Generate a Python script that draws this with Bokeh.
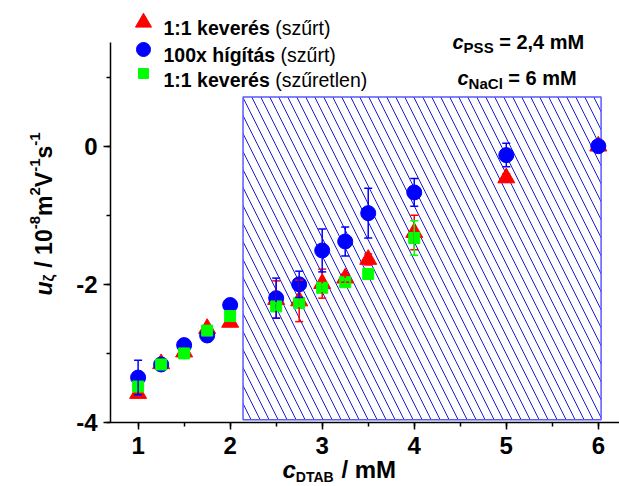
import math
from bokeh.plotting import figure
from bokeh.models import (Label, SingleIntervalTicker, Whisker, TeeHead,
                          ColumnDataSource, Range1d)
from bokeh.embed import file_html
from bokeh.resources import INLINE

# --- data -------------------------------------------------------------
# 1:1 keverés (szűrt)
conc_red = [1, 1.25, 1.5, 1.75, 2, 2.5, 2.75, 3, 3.25, 3.5, 4, 5, 6]
u_red = [-3.58, -3.15, -2.98, -2.64, -2.55, -2.22, -2.24, -1.99, -1.91, -1.64, -1.25, -0.46, 0.0]
err_red = [0, 0, 0, 0, 0, 0.27, 0.30, 0.21, 0.06, 0.08, 0.25, 0.06, 0]

# 100x hígítás (szűrt)
conc_blue = [1, 1.25, 1.5, 1.75, 2, 2.5, 2.75, 3, 3.25, 3.5, 4, 5, 6]
u_blue = [-3.35, -3.16, -2.88, -2.74, -2.30, -2.20, -2.00, -1.51, -1.38, -0.97, -0.67, -0.13, 0.0]
err_blue = [0.25, 0, 0, 0, 0, 0.29, 0.19, 0.31, 0.21, 0.36, 0.20, 0.17, 0]

# 1:1 keverés (szűretlen)
conc_green = [1, 1.25, 1.5, 1.75, 2, 2.5, 2.75, 3, 3.25, 3.5, 4]
u_green = [-3.48, -3.16, -3.00, -2.67, -2.46, -2.32, -2.27, -2.05, -1.97, -1.85, -1.33]
err_green = [0, 0, 0, 0, 0, 0.05, 0.05, 0.05, 0.05, 0.05, 0.25]

# shaded (hatched) concentration region
region_x = (2.14, 6.03)
region_y = (-3.96, 0.71)

x_ticks = [1, 2, 3, 4, 5, 6]
y_ticks = [-4, -2, 0]
x_span = (0.7, 6.23)
y_span = (-4.0, 1.5)

# --- layout -----------------------------------------------------------
# The frame fills the whole canvas; the axes sit at fixed positions inside it
# so that titles and notes around the plot area are not clipped.
W, H = 619, 486
AL, AR, AT, AB = 110, 619, 42, 422      # plot area in canvas px
sx = (x_span[1] - x_span[0]) / (AR - AL)
sy = (y_span[1] - y_span[0]) / (AB - AT)
x0 = x_span[0] - AL * sx
x1 = x_span[1] + (W - AR) * sx
y1 = y_span[1] + AT * sy
y0 = y_span[0] - (H - AB) * sy


def dx(X):
    return x0 + X * sx


def dy(Y):
    return y1 - Y * sy


p = figure(width=W, height=H, output_backend="svg", toolbar_location=None,
           x_range=Range1d(x0, x1), y_range=Range1d(y0, y1),
           min_border=0, min_border_left=0, min_border_right=0,
           min_border_top=0, min_border_bottom=0)
p.outline_line_color = None
p.grid.visible = False
p.background_fill_color = "white"
p.border_fill_color = "white"

p.xaxis.ticker = SingleIntervalTicker(interval=1, num_minor_ticks=2)
p.yaxis.ticker = SingleIntervalTicker(interval=2, num_minor_ticks=2)
p.xaxis.fixed_location = y_span[0]
p.yaxis.fixed_location = x_span[0]
p.xaxis.bounds = x_span
p.yaxis.bounds = y_span
p.xaxis.major_label_overrides = {t: str(t) for t in x_ticks}
p.yaxis.major_label_overrides = {t: str(t) for t in y_ticks}
for ax in (p.xaxis, p.yaxis):
    ax.axis_line_width = 1.5
    ax.axis_line_color = "black"
    ax.major_tick_line_width = 1.5
    ax.minor_tick_line_width = 1.5
    ax.major_tick_line_color = "black"
    ax.minor_tick_line_color = "black"
    ax.major_tick_in = 0
    ax.major_tick_out = 7
    ax.minor_tick_in = 0
    ax.minor_tick_out = 4
    ax.major_label_text_font = "Liberation Sans"
    ax.major_label_text_font_style = "bold"
    ax.major_label_text_font_size = "24px"
    ax.major_label_text_color = "black"
p.yaxis.major_label_standoff = 6
p.xaxis.major_label_standoff = 7

# hatched region
p.quad(left=[region_x[0]], right=[region_x[1]], bottom=[region_y[0]], top=[region_y[1]],
       fill_color=None, hatch_pattern="left_diagonal_line", hatch_color="#1a1ad8",
       hatch_scale=18, hatch_weight=1, line_color="#5a5aff", line_width=1.5)


def series(xs, ys, es, color, marker, size):
    # error bars only where a spread was measured
    eb = [(x, y - e, y + e) for x, y, e in zip(xs, ys, es) if e > 0]
    if eb:
        esrc = ColumnDataSource(dict(x=[b[0] for b in eb], lo=[b[1] for b in eb],
                                     hi=[b[2] for b in eb]))
        p.add_layout(Whisker(source=esrc, base="x", lower="lo", upper="hi",
                             line_color=color, line_width=1.5, level="glyph",
                             upper_head=TeeHead(size=8, line_color=color, line_width=1.5),
                             lower_head=TeeHead(size=8, line_color=color, line_width=1.5)))
    p.scatter(xs, ys, marker=marker, size=size, fill_color=color, line_color=color)


series(conc_red, u_red, err_red, "#ff0000", "triangle", 17)
series(conc_blue, u_blue, err_blue, "#0000ff", "circle", 15)
series(conc_green, u_green, err_green, "#00ff00", "square", 11)

# --- text helpers -----------------------------------------------------
BOLD = {' ': 278, ':': 333, 'k': 556, 'e': 556, 'v': 556, 'r': 389, 'é': 556,
        's': 556, 'x': 556, 'h': 611, 'í': 278, 'g': 611, 't': 333, 'á': 556,
        'c': 556, '=': 584, ',': 278, 'm': 889, 'M': 833, 'P': 667, 'S': 667,
        'N': 722, 'a': 556, 'C': 722, 'l': 278, 'D': 722, 'T': 611, 'A': 722,
        'B': 722, '/': 278, 'V': 667, 'u': 611, '-': 333, 'ζ': 500}
REG = {' ': 278, '(': 333, ')': 333, 's': 500, 'z': 500, 'ű': 556, 'r': 333,
       't': 278, 'e': 556, 'l': 222, 'n': 556}


def tw(s, size, bold=True):
    table = BOLD if bold else REG
    return sum(table.get(ch, 556) for ch in s) / 1000.0 * size


def put(text, X, Y, size, style="bold", color="black", angle=0.0,
        font="Liberation Sans"):
    """Place text with its baseline start at canvas pixel (X, Y)."""
    p.add_layout(Label(x=X, y=H - Y, x_units="screen", y_units="screen",
                       text=text, text_font=font, text_font_size=f"{size}px",
                       text_font_style=style, text_color=color, angle=angle,
                       text_baseline="alphabetic", text_align="left"))


def run(pieces, X, Y, angle=0.0):
    """Write a run of styled pieces (text, size, style, rise) along one line."""
    cur = 0.0
    for text, size, style, rise in pieces:
        bold = "bold" in style
        lead = len(text) - len(text.lstrip(" "))
        cur += tw(" " * lead, size, bold)
        body = text.lstrip(" ")
        if angle == 0.0:
            put(body, X + cur, Y - rise, size, style)
        else:
            put(body, X - rise, Y - cur, size, style, angle=angle)
        cur += tw(body, size, bold)
    return cur


# legend
leg_text_x, leg_sym_x = 163, 143
rows = [("triangle", "#ff0000", 16, "1:1 keverés", " (szűrt)", 27, 22),
        ("circle", "#0000ff", 14, "100x hígítás", " (szűrt)", 54, 49),
        ("square", "#00ff00", 10, "1:1 keverés", " (szűretlen)", 79, 73)]
for marker, col, msz, bold_txt, reg_txt, base, cy in rows:
    p.scatter([dx(leg_sym_x)], [dy(cy)], marker=marker, size=msz,
              fill_color=col, line_color=col)
    run([(bold_txt, 19.5, "bold", 0), (reg_txt, 19.5, "normal", 0)], leg_text_x, base)

# concentration notes
for X, base, sub, rest in [(452, 41, "PSS", " = 2,4 mM"), (457, 77, "NaCl", " = 6 mM")]:
    run([("c", 20, "bold italic", 0), (sub, 15, "bold", -6), (rest, 20, "bold", 0)],
        X, base)

# x axis title
run([("c", 24, "bold italic", 0), ("DTAB", 14, "bold", -7), (" / mM", 24, "bold", 0)],
    282, 469)

# y axis title (rotated, reads bottom to top)
ypieces = [("u", 23, "bold italic", 0), ("ζ", 15, "bold", -5),
           (" / 10", 23, "bold", 0), ("-8", 15, "bold", 9),
           ("m", 23, "bold", 0), ("2", 15, "bold", 9),
           ("V", 23, "bold", 0), ("-1", 15, "bold", 9),
           ("s", 23, "bold", 0), ("-1", 15, "bold", 9)]
total = sum(tw(t, s) for t, s, _, _ in ypieces)
run(ypieces, 43, 213.5 + total / 2, angle=math.pi / 2)

open("out.html", "w").write(file_html(p, INLINE))
